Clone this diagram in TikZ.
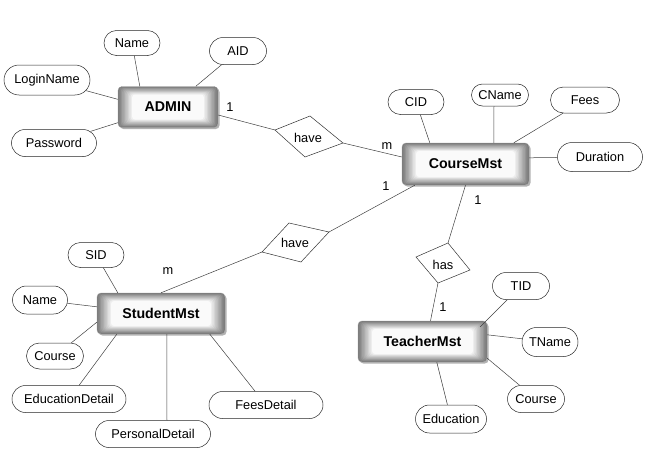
\documentclass[tikz,border=0pt]{standalone}
\usepackage{fontspec}
\setmainfont{Liberation Sans}
\usetikzlibrary{shapes.misc,shadows}
\tikzset{
  ent/.style={rectangle, rounded corners=4pt, draw=black!40, line width=0.4pt,
    font=\fontsize{14.2}{16}\selectfont\bfseries, minimum height=41pt, inner sep=0pt,
    fill=white,
    drop shadow={shadow xshift=1.6pt, shadow yshift=-1.6pt, opacity=0.3, fill=black},
    path picture={\foreach \i [evaluate=\i as \c using int(52-5*\i), evaluate=\i as \dx using 1.4*\i, evaluate=\i as \dy using 0.8*\i] in {0,...,10}{
      \fill[black!\c, rounded corners=3pt] ([xshift=\dx pt,yshift=-\dy pt]path picture bounding box.north west) rectangle ([xshift=-\dx pt,yshift=\dy pt]path picture bounding box.south east);}}},
  attr/.style={rounded rectangle, draw=black!85, line width=0.5pt, fill=white, inner sep=0pt,
    font=\fontsize{12.8}{15}\selectfont},
  lbl/.style={inner sep=0pt, font=\fontsize{12.8}{15}\selectfont},
  conn/.style={draw=black!75, line width=0.5pt},
  rel/.style={draw=black!80, line width=0.5pt, line join=miter}
}
\begin{document}
\begin{tikzpicture}[x=1pt,y=-1pt]
\useasboundingbox (0,0) rectangle (649,455);
% entities
\node[ent, minimum width=100pt] (adm) at (168,107) {ADMIN};
\node[ent, minimum width=127pt, minimum height=42pt] (course) at (465.5,164) {CourseMst};
\node[ent, minimum width=128pt] (stu) at (161,313.5) {StudentMst};
\node[ent, minimum width=129pt] (tea) at (422.5,341.5) {TeacherMst};
% attributes
\node[attr, minimum width=56pt, minimum height=25pt] (aname) at (132,43) {Name};
\node[attr, minimum width=57pt, minimum height=27pt] (aid) at (238,51) {AID};
\node[attr, minimum width=86pt, minimum height=30pt] (login) at (47,80) {LoginName};
\node[attr, minimum width=85pt, minimum height=27pt] (pass) at (54,143) {Password};
\node[attr, minimum width=56pt, minimum height=25pt] (cid) at (416,102) {CID};
\node[attr, minimum width=57pt, minimum height=22pt] (cname) at (500,95) {CName};
\node[attr, minimum width=69pt, minimum height=26pt] (fees) at (585,100) {Fees};
\node[attr, minimum width=85pt, minimum height=29pt] (dur) at (600,157) {Duration};
\node[attr, minimum width=56pt, minimum height=25pt] (sid) at (96,255) {SID};
\node[attr, minimum width=55pt, minimum height=28pt] (sname) at (40,300) {Name};
\node[attr, minimum width=57pt, minimum height=26pt] (scourse) at (55,356) {Course};
\node[attr, minimum width=114pt, minimum height=27pt] (edu) at (69,399) {EducationDetail};
\node[attr, minimum width=115pt, minimum height=27pt] (pers) at (153,434) {PersonalDetail};
\node[attr, minimum width=114pt, minimum height=27pt] (feesd) at (266,405) {FeesDetail};
\node[attr, minimum width=57pt, minimum height=27pt] (tid) at (521,286) {TID};
\node[attr, minimum width=56pt, minimum height=29pt] (tname) at (550,342) {TName};
\node[attr, minimum width=57pt, minimum height=27pt] (tcourse) at (536,399) {Course};
\node[attr, minimum width=71pt, minimum height=28pt] (tedu) at (451,419) {Education};
% relationships
\node[lbl] (have1) at (308,138) {have};
\coordinate (h1l) at (275,130); \coordinate (h1t) at (310,116);
\coordinate (h1r) at (343,143); \coordinate (h1b) at (305,157);
\draw[rel] (h1l) -- (h1t) -- (h1r) -- (h1b) -- cycle;
\node[lbl] (have2) at (295,243) {have};
\coordinate (h2l) at (262,252); \coordinate (h2t) at (289,223);
\coordinate (h2r) at (329,232); \coordinate (h2b) at (301,262);
\draw[rel] (h2l) -- (h2t) -- (h2r) -- (h2b) -- cycle;
\node[lbl] (has) at (443,265) {has};
\coordinate (hsl) at (416,257); \coordinate (hst) at (448,243);
\coordinate (hsr) at (470,270); \coordinate (hsb) at (438,283);
\draw[rel] (hsl) -- (hst) -- (hsr) -- (hsb) -- cycle;
% relationship connectors
\draw[conn] ([yshift=-8pt]adm.east) -- (h1l);
\draw[conn] (h1r) -- ([yshift=7pt]course.west);
\draw[conn] ([xshift=13pt]course.south west) -- (h2r);
\draw[conn] (h2l) -- (stu.north);
\draw[conn] (course.south) -- (hst);
\draw[conn] (hsb) -- ([xshift=8pt]tea.north);
% cardinality labels
\node[lbl] (c1) at (230,107) {1};
\node[lbl] (c2) at (387,146) {m};
\node[lbl] (c3) at (386,186) {1};
\node[lbl] (c4) at (168,271) {m};
\node[lbl] (c5) at (478,200) {1};
\node[lbl] (c6) at (443,307) {1};
% attribute connectors
\draw[conn] ([xshift=22pt]adm.north west) -- (aname);
\draw[conn] ([xshift=78pt]adm.north west) -- (aid);
\draw[conn] ([yshift=-13pt]adm.north west) -- (login);
\draw[conn] ([yshift=5pt]adm.south west) -- (pass);
\draw[conn] ([xshift=28pt]course.north west) -- (cid);
\draw[conn] ([xshift=92pt]course.north west) -- ([xshift=-6pt]cname.south);
\draw[conn] ([xshift=112pt]course.north west) -- (fees);
\draw[conn] ([yshift=-15pt]course.north east) -- (dur);
\draw[conn] ([xshift=21pt]stu.north west) -- (sid);
\draw[conn] ([yshift=-14pt]stu.north west) -- (sname);
\draw[conn] ([yshift=12pt]stu.south west) -- (scourse);
\draw[conn] ([xshift=20pt]stu.south west) -- (edu);
\draw[conn] ([xshift=70pt]stu.south west) -- ([xshift=14pt]pers.north);
\draw[conn] ([xshift=113pt]stu.south west) -- (feesd);
\draw[conn] ([xshift=-7pt,yshift=-6pt]tea.north east) -- (tid);
\draw[conn] ([yshift=-14pt]tea.north east) -- (tname);
\draw[conn] ([yshift=4pt]tea.south east) -- (tcourse);
\draw[conn] ([xshift=79pt]tea.south west) -- (tedu);
\end{tikzpicture}
\end{document}
